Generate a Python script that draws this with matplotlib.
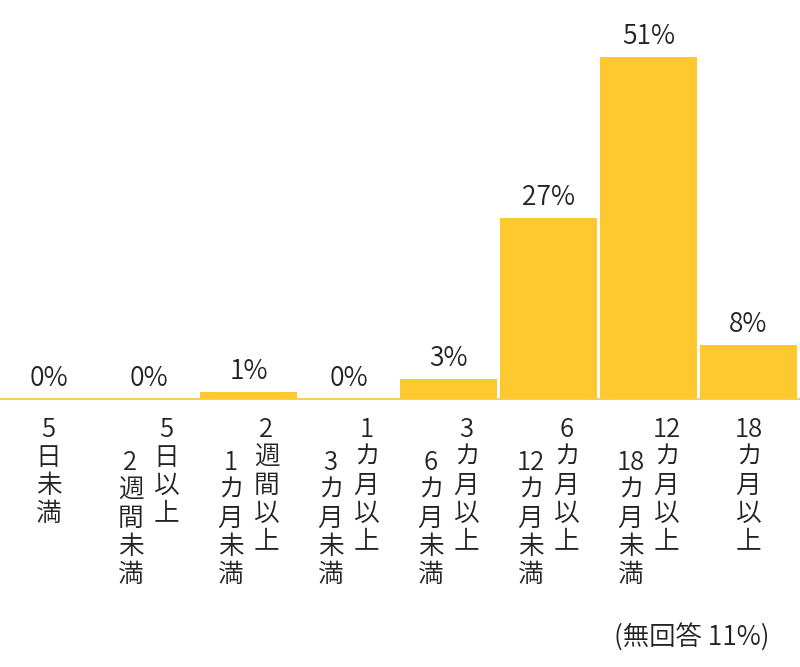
import re
import matplotlib
matplotlib.use("Agg")
import matplotlib.pyplot as plt

plt.rcParams['font.family'] = ['Noto Sans CJK JP', 'DejaVu Sans']

values = [0, 0, 1, 0, 3, 27, 51, 8]
# upper part ("以上") goes in the right column, lower part ("未満") in the left one
upper = ["", "5日以上", "2週間以上", "1カ月以上", "3カ月以上", "6カ月以上", "12カ月以上", "18カ月以上"]
lower = ["5日未満", "2週間未満", "1カ月未満", "3カ月未満", "6カ月未満", "12カ月未満", "18カ月未満", ""]
note = "(無回答 11%)"

bar_color = '#FDC92F'
text_color = '#222222'
weight = 350

fig = plt.figure(figsize=(8, 6.67), dpi=100)
ax = fig.add_axes([0, 0, 1, 1])
ax.axis('off')
ax.set_xlim(0, 8)
ax.set_ylim(-40, 59.55)

px = 99.55 / 667  # one pixel in data units (y)

x = list(range(len(values)))
ax.bar(x, values, width=0.97, align='edge', color=bar_color, linewidth=0)
ax.axhline(0, color='#F7CF55', lw=1.5, zorder=0)

for i, v in enumerate(values):
    ax.annotate(f"{v}%", (i + 0.485, v), xytext=(0, 5), textcoords='offset points',
                ha='center', va='bottom', fontsize=19, color=text_color,
                fontweight=weight)


def column(xc, text, top):
    tokens = re.findall(r'\d+|.', text)
    for k, t in enumerate(tokens):
        y = -(top + 28 * k - 399) * px
        ax.text(xc, y, t, ha='center', va='center', fontsize=18.5,
                color=text_color, fontweight=weight)


for i in range(len(values)):
    c = i + 0.485
    if upper[i] and lower[i]:
        column(c + 0.18, upper[i], 430)
        column(c - 0.18, lower[i], 463)
    else:
        column(c, upper[i] or lower[i], 430)

ax.text(7.7, -(638 - 399) * px, note, ha='right', va='center', fontsize=19,
        color=text_color, fontweight=weight)

fig.savefig('out.png', dpi=100)
